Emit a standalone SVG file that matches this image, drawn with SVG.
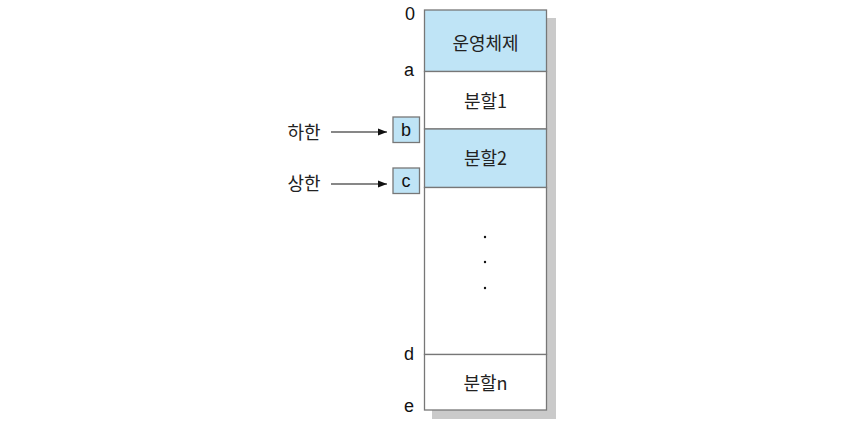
<svg xmlns="http://www.w3.org/2000/svg" width="841" height="424" viewBox="0 0 841 424">
<style>
.t{font-family:"Noto Sans CJK KR","Liberation Sans",sans-serif;font-size:18px;fill:#222;text-anchor:middle;dominant-baseline:central}
.l{font-family:"Liberation Sans",sans-serif;font-size:18px;fill:#111;text-anchor:middle;dominant-baseline:central}
.cell{stroke:#777;stroke-width:1.3}
.blue{fill:#bfe4f6}
.white{fill:#fff}
.con{stroke:#111;stroke-width:1.2;fill:none}
</style>
<defs>
<marker id="ah" markerWidth="10" markerHeight="8" refX="9" refY="4" orient="auto" markerUnits="userSpaceOnUse">
<path d="M0,0.5 L9,4 L0,7.5 Z" fill="#111"/>
</marker>
</defs>
<rect id="shadow" x="432" y="18" width="124" height="401" fill="#cacaca"/>
<g id="os"><rect class="cell blue" x="424.5" y="10" width="122" height="61.5"/><text class="t" x="485.5" y="42">운영체제</text></g>
<g id="p1"><rect class="cell white" x="424.5" y="71.5" width="122" height="57.5"/><text class="t" x="485.5" y="100">분할1</text></g>
<g id="p2"><rect class="cell blue" x="424.5" y="129" width="122" height="58.5"/><text class="t" x="485.5" y="157">분할2</text></g>
<g id="mid"><rect class="cell white" x="424.5" y="187.5" width="122" height="167"/>
<circle cx="485" cy="237" r="1.2" fill="#111"/><circle cx="485" cy="262" r="1.2" fill="#111"/><circle cx="485" cy="288" r="1.2" fill="#111"/></g>
<g id="pn"><rect class="cell white" x="424.5" y="354.5" width="122" height="55.5"/><text class="t" x="485.5" y="382">분할n</text></g>
<g id="labels">
<text class="l" x="410" y="14">0</text>
<text class="l" x="409" y="70">a</text>
<text class="l" x="409" y="354">d</text>
<text class="l" x="409" y="406">e</text>
</g>
<g id="b"><rect class="cell blue" x="393" y="117" width="26.5" height="25.5"/><text class="l" x="406" y="130">b</text></g>
<g id="c"><rect class="cell blue" x="393" y="168" width="26.5" height="25.5"/><text class="l" x="406" y="181">c</text></g>
<g id="lower"><text class="t" x="304" y="131">하한</text></g>
<g id="upper"><text class="t" x="304" y="182">상한</text></g>
<g id="connectors">
<line class="con" x1="331" y1="132" x2="387" y2="132" marker-end="url(#ah)"/>
<line class="con" x1="331" y1="184" x2="387" y2="184" marker-end="url(#ah)"/>
</g>
</svg>
